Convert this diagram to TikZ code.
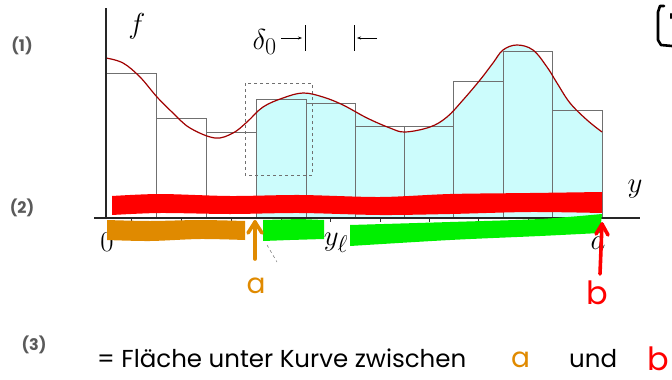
\documentclass[tikz,border=0pt]{standalone}
\usepackage{graphicx}
\usepackage{fontspec}
\newfontfamily\hand{Poppins}
\usetikzlibrary{arrows.meta}
\newcommand\mlblx[1]{\scalebox{1.16}{$#1$}}
\definecolor{cyanfill}{HTML}{CCFCFC}
\definecolor{curvered}{HTML}{A00000}
\definecolor{hlred}{HTML}{FF0000}
\definecolor{hlorange}{HTML}{E08A00}
\definecolor{hlgreen}{HTML}{00F000}
\definecolor{rectgray}{HTML}{707070}
\definecolor{numgray}{HTML}{5A5A5A}
\tikzset{
  binbox/.style={draw=rectgray, line width=0.9pt},
  axisline/.style={draw=black!85, line width=1.3pt},
  mathlbl/.style={inner sep=0pt, font=\fontsize{24.88}{28}\selectfont},
  handlbl/.style={inner sep=0pt, font=\hand\fontsize{24.5}{28}\selectfont},
  numlbl/.style={inner sep=0pt, text=numgray, font=\hand\bfseries\fontsize{16}{19}\selectfont},
  pen/.style={line width=3.6pt, line cap=round, line join=round},
  thinarrow/.style={line width=0.6pt, -{Stealth[length=4pt,width=3pt]}},
}
\begin{document}
\begin{tikzpicture}[x=1pt,y=-1pt]
\useasboundingbox (0,0) rectangle (672,380);
% cyan fill under curve
\begin{scope}
\clip (256,0) rectangle (602,218);
\fill[cyanfill] plot[smooth,tension=0.6] coordinates {(233,133)(247,122)(263,107)(283,98)(303,93)(323,97)(343,105)(367,118)(390,128)(405,132)(430,127)(447,117)(463,100)(480,80)(493,63)(503,50)(517,45)(533,50)(547,67)(557,83)(570,103)(587,120)(602,132)(615,140)} -- (615,218) -- (233,218) -- cycle;
\end{scope}
% bins
\foreach \xa/\xb/\h in {106/156/73,156/206/118,206/256/132,256/306/99,306/355/103,355/404/126,404/453/126,453/503/81,503/552/51,552/602/110}
  \draw[binbox] (\xa,218) -- (\xa,\h) -- (\xb,\h) -- (\xb,218);
% ticks
\foreach \x in {131,181,231,281,330,380,429,478,528,577}
  \draw[black!80, line width=0.6pt] (\x,218) -- (\x,222);
% dashed box
\draw[rectgray, dashed, line width=0.8pt] (245,83) rectangle (312,175);
\draw[rectgray, dashed, line width=0.5pt] (267,245) -- (277,262);
% curve
\draw[curvered, line width=1.2pt] plot[smooth,tension=0.6] coordinates {(106,58)(123,63)(140,77)(157,97)(173,113)(190,128)(215,138)(233,133)(247,122)(263,107)(283,98)(303,93)(323,97)(343,105)(367,118)(390,128)(405,132)(430,127)(447,117)(463,100)(480,80)(493,63)(503,50)(517,45)(533,50)(547,67)(557,83)(570,103)(587,120)(602,132)};
% axes
\coordinate (yaxtop) at (106,8);
\coordinate (origin) at (106,218);
\coordinate (xaxleft) at (94,218);
\coordinate (xaxright) at (640,218);
\draw[axisline] (yaxtop) -- (origin);
\draw[axisline] (xaxleft) -- (xaxright);
% math labels
\node[mathlbl] (flbl) at (137,26) {\mlblx{f}};
\node[mathlbl] (ylbl) at (635,189) {\mlblx{y}};
\node[mathlbl] (zero) at (107,242) {\mlblx{0}};
\node[mathlbl] (yl) at (336,243) {\mlblx{y_\ell}};
\node[mathlbl] (alab) at (598,243) {\mlblx{a}};
\node[mathlbl, anchor=east] (delta) at (277,42) {\mlblx{\delta_0}};
% delta bars
\coordinate (bar1t) at (305,25); \coordinate (bar1b) at (305,51);
\coordinate (bar2t) at (354,25); \coordinate (bar2b) at (354,51);
\draw[line width=0.6pt] (bar1t) -- (bar1b);
\draw[line width=0.6pt] (bar2t) -- (bar2b);
\coordinate (arr1s) at (281,38); \coordinate (arr1e) at (302,38);
\coordinate (arr2s) at (377,38); \coordinate (arr2e) at (357,38);
\draw[thinarrow] (arr1s) -- (arr1e);
\draw[thinarrow] (arr2s) -- (arr2e);
% highlighter bands
\fill[hlred] plot[smooth] coordinates {(112,196)(160,194)(230,196)(300,195)(380,197)(450,194)(530,193)(602,192)} -- plot[smooth] coordinates {(602,213)(530,212)(450,214)(380,215)(300,213)(230,214)(160,213)(112,215)} -- cycle;
\fill[hlorange] plot[smooth] coordinates {(107,220)(150,221)(200,220)(245,221)} -- (245,240) -- plot[smooth] coordinates {(245,240)(200,239)(150,241)(107,240)} -- cycle;
\fill[hlgreen] (263,220) -- (300,219) -- (324,220) -- (324,239) -- (290,240) -- (263,241) -- cycle;
\fill[hlgreen] plot[smooth] coordinates {(350,225)(450,222)(540,219)(602,214)} -- (600,233) -- plot[smooth] coordinates {(600,233)(540,236)(450,240)(350,246)} -- cycle;
% pen arrows
\coordinate (aarrs) at (255,259); \coordinate (aarre) at (255,222);
\draw[pen, hlorange] (aarrs) -- (aarre);
\draw[pen, hlorange] ([shift={(-7,11)}]aarre) -- (aarre) -- ([shift={(7,11)}]aarre);
\coordinate (barrs) at (600,274); \coordinate (barre) at (602,224);
\draw[pen, hlred] (barrs) -- (barre);
\draw[pen, hlred] ([shift={(-6,10)}]barre) -- (barre) -- ([shift={(6,11)}]barre);
\node[handlbl, text=hlorange, font=\hand\fontsize{28}{32}\selectfont] (ahand) at (256,286) {a};
\node[handlbl, text=hlred, font=\hand\fontsize{32}{36}\selectfont] (bhand) at (597,293) {b};
% step numbers
\node[numlbl] (n1) at (22,46) {(1)};
\node[numlbl] (n2) at (22,208) {(2)};
\node[numlbl] (n3) at (34,345) {(3)};
% bottom text
\node[handlbl, anchor=base west] (txt) at (97,367) {= Fläche unter Kurve zwischen};
\node[handlbl, anchor=base west, text=hlorange, font=\hand\fontsize{28}{32}\selectfont] (ta) at (511,367) {a};
\node[handlbl, anchor=base west] (tund) at (569,367) {und};
\node[handlbl, anchor=base west, text=hlred, font=\hand\fontsize{32}{36}\selectfont] (tb) at (647,370) {b};
% bracket top right
\draw[line width=2.6pt, line cap=round, line join=round] (664,6) -- (660,6) -- (658,12) -- (658,40) -- (661,45) -- (672,46);
\draw[line width=2.2pt, line cap=round] (671,14) -- (671,18);
\end{tikzpicture}
\end{document}
